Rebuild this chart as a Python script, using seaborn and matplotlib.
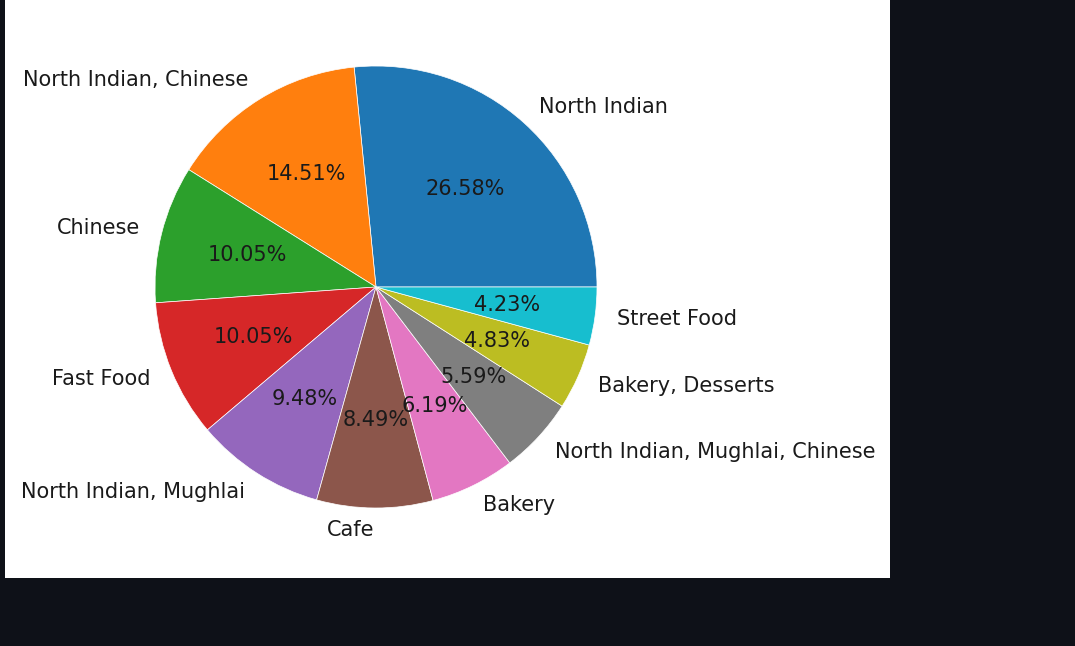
import matplotlib
matplotlib.use("Agg")
import matplotlib.pyplot as plt
import seaborn as sns

# cuisine share (percent of restaurants)
cuisines = [
    "North Indian",
    "North Indian, Chinese",
    "Chinese",
    "Fast Food",
    "North Indian, Mughlai",
    "Cafe",
    "Bakery",
    "North Indian, Mughlai, Chinese",
    "Bakery, Desserts",
    "Street Food",
]
share = [26.58, 14.51, 10.05, 10.05, 9.48, 8.49, 6.19, 5.59, 4.83, 4.23]

sns.set_theme(style="white")
plt.rcParams["font.family"] = ["DejaVu Sans"]

W, H = 1075, 646
fig = plt.figure(figsize=(W / 100, H / 100), dpi=100, facecolor="#0e1118")

# white notebook output area
bg = fig.add_axes([5 / W, (H - 578) / H, 885 / W, 578 / H])
bg.set_facecolor("white")
bg.set_xticks([])
bg.set_yticks([])
for s in bg.spines.values():
    s.set_visible(False)

# pie axes: center (376, 287), radius 221 px; pie limits are +-1.25
cx, cy, r = 376, 287, 221
half = 1.25 * r
ax = fig.add_axes([(cx - half) / W, (H - cy - half) / H, 2 * half / W, 2 * half / H])
ax.pie(share, labels=cuisines, autopct="%.2f%%",
       colors=sns.color_palette("tab10", len(share)),
       wedgeprops={"edgecolor": "white", "linewidth": 0.5},
       textprops={"fontsize": 15, "color": "#1a1a1a"})
ax.set_aspect("equal")

fig.savefig("out.png", dpi=100, facecolor=fig.get_facecolor())
